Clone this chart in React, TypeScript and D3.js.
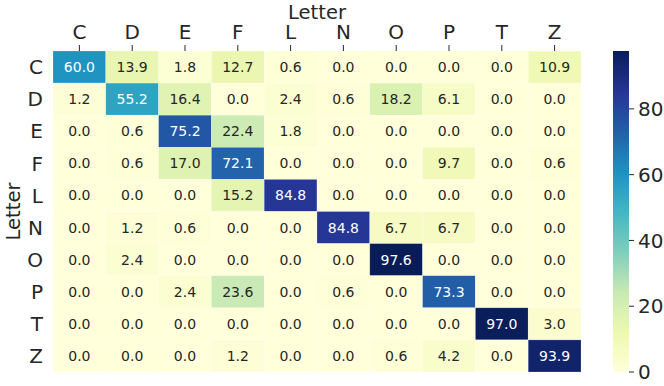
import React from "react";
import * as d3 from "d3";

const letters = ["C", "D", "E", "F", "L", "N", "O", "P", "T", "Z"];
const row_C = [60.0, 13.9, 1.8, 12.7, 0.6, 0.0, 0.0, 0.0, 0.0, 10.9];
const row_D = [1.2, 55.2, 16.4, 0.0, 2.4, 0.6, 18.2, 6.1, 0.0, 0.0];
const row_E = [0.0, 0.6, 75.2, 22.4, 1.8, 0.0, 0.0, 0.0, 0.0, 0.0];
const row_F = [0.0, 0.6, 17.0, 72.1, 0.0, 0.0, 0.0, 9.7, 0.0, 0.6];
const row_L = [0.0, 0.0, 0.0, 15.2, 84.8, 0.0, 0.0, 0.0, 0.0, 0.0];
const row_N = [0.0, 1.2, 0.6, 0.0, 0.0, 84.8, 6.7, 6.7, 0.0, 0.0];
const row_O = [0.0, 2.4, 0.0, 0.0, 0.0, 0.0, 97.6, 0.0, 0.0, 0.0];
const row_P = [0.0, 0.0, 2.4, 23.6, 0.0, 0.6, 0.0, 73.3, 0.0, 0.0];
const row_T = [0.0, 0.0, 0.0, 0.0, 0.0, 0.0, 0.0, 0.0, 97.0, 3.0];
const row_Z = [0.0, 0.0, 0.0, 1.2, 0.0, 0.0, 0.6, 4.2, 0.0, 93.9];
const matrix = [row_C, row_D, row_E, row_F, row_L, row_N, row_O, row_P, row_T, row_Z];
const colorbarTicks = [0, 20, 40, 60, 80];
const axisTitle = "Letter";

const W = 664;
const H = 386;
const left = 53;
const right = 581;
const top = 51;
const bottom = 372;
const cbLeft = 613;
const cbRight = 629;
const FONT = "DejaVu Sans, sans-serif";

// matplotlib-like linear interpolation through the 9 ColorBrewer YlGnBu colours
const ylgnbu = d3.piecewise(d3.interpolateRgb, d3.schemeYlGnBu[9] as string[]);

export default function App() {
  const vmax = d3.max(matrix.flat()) as number;
  const x = d3.scaleBand<string>().domain(letters).range([left, right]);
  const y = d3.scaleBand<string>().domain(letters).range([top, bottom]);
  const color = d3.scaleSequential(ylgnbu).domain([0, vmax]);
  const cbY = d3.scaleLinear().domain([0, vmax]).range([bottom, top]);
  const gradStops = d3.range(0, 1.0001, 0.0625);

  return (
    <svg
      width={W}
      height={H}
      style={{ position: "absolute", left: 0, top: 0, background: "#fff" }}
      fontFamily={FONT}
    >
      <defs>
        <linearGradient id="cb" x1="0" y1="1" x2="0" y2="0">
          {gradStops.map((t) => (
            <stop key={t} offset={t} stopColor={ylgnbu(t)} />
          ))}
        </linearGradient>
      </defs>
      {matrix.map((row, i) =>
        row.map((v, j) => {
          const cx = x(letters[j])!;
          const cy = y(letters[i])!;
          return (
            <g key={`${i}-${j}`}>
              <rect
                x={cx}
                y={cy}
                width={x.bandwidth()}
                height={y.bandwidth()}
                fill={color(v)}
                stroke="#ffffff"
                strokeOpacity={0.35}
                strokeWidth={0.6}
              />
              <text
                x={cx + x.bandwidth() / 2}
                y={cy + y.bandwidth() / 2}
                dy="0.36em"
                textAnchor="middle"
                fontSize={14}
                fill={v > 50 ? "#ffffff" : "#262626"}
              >
                {v.toFixed(1)}
              </text>
            </g>
          );
        })
      )}
      {/* top x axis */}
      {letters.map((l) => {
        const cx = x(l)! + x.bandwidth() / 2;
        return (
          <g key={`xt-${l}`}>
            <line x1={cx} x2={cx} y1={top - 6} y2={top} stroke="#262626" strokeWidth={1} />
            <text x={cx} y={38.5} textAnchor="middle" fontSize={20} fill="#262626">
              {l}
            </text>
          </g>
        );
      })}
      <text x={(left + right) / 2} y={18.5} textAnchor="middle" fontSize={19.5} fill="#262626">
        {axisTitle}
      </text>
      {/* left y axis */}
      {letters.map((l) => {
        const cy = y(l)! + y.bandwidth() / 2;
        return (
          <text
            key={`yt-${l}`}
            x={43}
            y={cy}
            dy="0.36em"
            textAnchor="end"
            fontSize={20}
            fill="#262626"
          >
            {l}
          </text>
        );
      })}
      <text
        transform={`translate(20, ${(top + bottom) / 2}) rotate(-90)`}
        textAnchor="middle"
        fontSize={19.5}
        fill="#262626"
      >
        {axisTitle}
      </text>
      {/* colorbar */}
      <rect x={cbLeft} y={top} width={cbRight - cbLeft} height={bottom - top} fill="url(#cb)" />
      {colorbarTicks.map((t) => (
        <g key={`cb-${t}`}>
          <line x1={cbRight} x2={cbRight + 5} y1={cbY(t)} y2={cbY(t)} stroke="#262626" strokeWidth={1} />
          <text x={cbRight + 9} y={cbY(t)} dy="0.36em" fontSize={20} fill="#262626">
            {t}
          </text>
        </g>
      ))}
    </svg>
  );
}
